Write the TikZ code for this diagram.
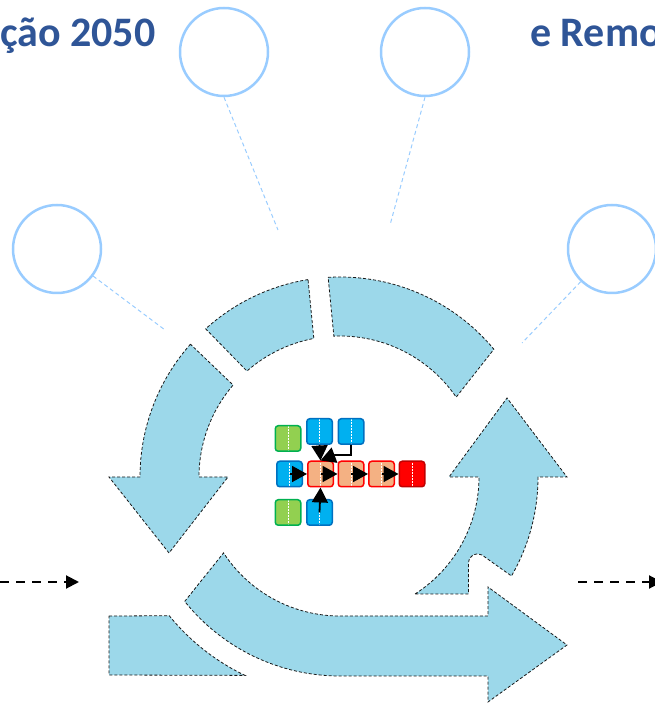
\documentclass[tikz,border=0pt]{standalone}
\usepackage{fontspec}
\setmainfont{Carlito}
\usetikzlibrary{arrows.meta}
\definecolor{ringblue}{RGB}{156,216,234}
\definecolor{titleblue}{RGB}{47,85,151}
\definecolor{bubbleblue}{RGB}{153,204,255}
\definecolor{grnfill}{RGB}{146,208,80}
\definecolor{grnline}{RGB}{0,176,80}
\definecolor{blufill}{RGB}{0,176,240}
\definecolor{bluline}{RGB}{0,112,192}
\definecolor{salfill}{RGB}{244,177,131}
\definecolor{darkred}{RGB}{192,0,0}
\begin{document}
\begin{tikzpicture}[x=1pt,y=1pt,
    seg/.style={fill=ringblue,draw=black!90,densely dashed,line width=0.8pt},
    bubble/.style={circle,draw=bubbleblue,line width=2.5pt,minimum size=88pt,inner sep=0pt},
    lead/.style={draw=bubbleblue,line width=1pt,dash pattern=on 4pt off 3pt},
    blk/.style={rectangle,rounded corners=3pt,line width=1.5pt,minimum size=25.5pt,inner sep=0pt,
      path picture={\draw[white,densely dotted,line width=0.5pt]
        (path picture bounding box.north) -- (path picture bounding box.south);}},
    gblk/.style={blk,fill=grnfill,draw=grnline},
    bblk/.style={blk,fill=blufill,draw=bluline},
    sblk/.style={blk,fill=salfill,draw=red},
    rblk/.style={blk,fill=red,draw=darkred},
    arr/.style={-{Triangle[length=15pt,width=16pt]},line width=1.8pt},
    flow/.style={-{Triangle[length=13pt,width=13pt]},line width=2pt,dash pattern=on 9pt off 7pt},
    title/.style={anchor=base west,text=titleblue,font=\bfseries\fontsize{42}{48}\selectfont,inner sep=0pt}]
      \useasboundingbox (0,0) rectangle (654,704);
      \node[title] (t1) at (0,657) {ção 2050};
      \node[title] (t2) at (530,657) {e Remo};
      \draw
        (224,652) node[bubble] (A){}
        (425,652) node[bubble] (B){}
        (57,455) node[bubble] (C){}
        (612,455) node[bubble] (D){};
      \coordinate (a) at (278,474);
      \coordinate (b) at (390,479);
      \coordinate (c) at (165,374);
      \coordinate (d) at (522,361);
      \begin{scope}[lead]
        \draw (A.south) to (a);
        \draw (B.south) to (b);
        \draw (C) to (c);
        \draw (D) to (d);
      \end{scope}
      \begin{scope}[shift={(340,227)}]
        \draw[seg] (99.2:200) arc[start angle=99.2,end angle=132.2,radius=200]
          -- (131.3:141) arc[start angle=131.3,end angle=100.7,radius=141] -- cycle;
        \draw[seg] (93.4:200) arc[start angle=93.4,end angle=39.7,radius=200]
          -- (34.5:141) arc[start angle=34.5,end angle=92.5,radius=141] -- cycle;
        \draw[seg] (138.4:200) arc[start angle=138.4,end angle=180,radius=200]
          -- (-231,0) -- (-171,-76) -- (-112,0) -- (-141,0)
          arc[start angle=180,end angle=139.3,radius=141] -- cycle;
        \draw[seg] (-57.3:139) arc[start angle=-57.3,end angle=0,radius=139]
          -- (109,0) -- (167,79) -- (227,0) -- (198,0)
          arc[start angle=0,end angle=-30,radius=198]
          -- (142,-78) .. controls (136,-75) and (129,-78) .. (128.5,-86)
          -- (128.5,-117) -- cycle;
        \draw[seg] (-231,-139) -- (219.1:220) arc[start angle=219.1,end angle=244.4,radius=220]
          -- (-231,-198) -- cycle;
        \draw[seg] (218.7:199) -- (213.1:139) arc[start angle=213.1,end angle=270,radius=139]
          -- (148,-139) -- (148,-110) -- (227,-168) -- (148,-225) -- (148,-199)
          -- (0,-199) arc[start angle=270,end angle=218.7,radius=199] -- cycle;
      \end{scope}
      \coordinate (in0) at (0,122);
      \coordinate (in1) at (79,122);
      \coordinate (out0) at (578,122);
      \coordinate (out1) at (662,122);
      \draw[flow] (in0) to (in1);
      \draw[flow] (out0) to (out1);
      \draw
        (288,265.5) node[gblk] (g1){}
        (319.5,272.5) node[bblk] (b1){}
        (351,272.5) node[bblk] (b2){}
        (289.5,230) node[bblk] (b3){}
        (320.5,230) node[sblk] (s1){}
        (351,230) node[sblk] (s2){}
        (381.5,230) node[sblk] (s3){}
        (412,230) node[rblk] (r1){}
        (288,191.5) node[gblk] (g2){}
        (319.5,191.5) node[bblk] (b4){};
      \coordinate (k) at (335,249);
      \begin{scope}[arr]
        \draw (b3.center) to (s1.west);
        \draw (s1.center) to (s2.west);
        \draw (s2.center) to (s3.west);
        \draw (s3.center) to (r1.west);
        \draw (b1.south) to (s1.north);
        \draw (b2.south) |- (k) -- (s1.north);
        \draw (b4.center) to (s1.south);
      \end{scope}
    \end{tikzpicture}
\end{document}
